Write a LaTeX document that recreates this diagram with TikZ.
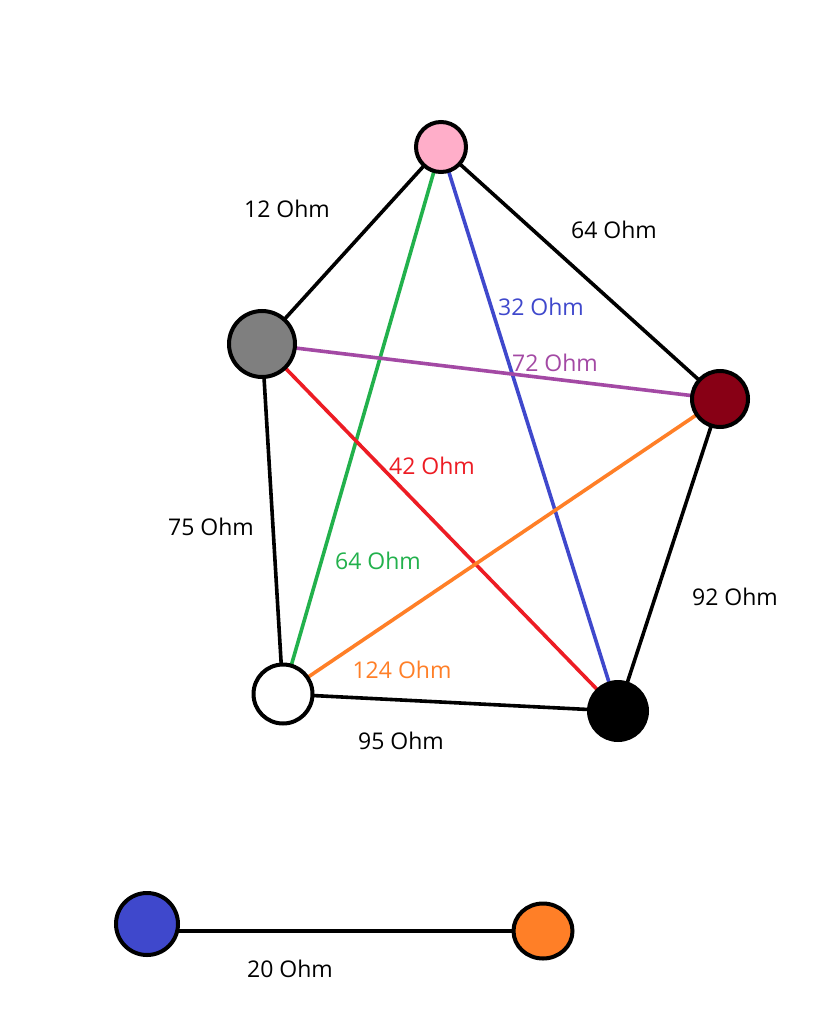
\documentclass[tikz,border=0pt]{standalone}
\usepackage{fontspec}
\setmainfont{Open Sans}
\usetikzlibrary{shapes.geometric}
\definecolor{cpink}{HTML}{FFAEC9}
\definecolor{cgray}{HTML}{7F7F7F}
\definecolor{cdred}{HTML}{880015}
\definecolor{cblue}{HTML}{3F48CC}
\definecolor{corange}{HTML}{FF7F27}
\definecolor{cgreen}{HTML}{22B14C}
\definecolor{cpurple}{HTML}{A349A4}
\definecolor{cred}{HTML}{ED1C24}
\tikzset{
  vert/.style={circle, draw=black, line width=4pt, inner sep=0pt},
  edge/.style={line width=3.6pt},
  lbl/.style={inner sep=0pt, font=\fontsize{23}{26}\selectfont, text height=16pt, text depth=0pt, anchor=center}
}
\begin{document}
\begin{tikzpicture}[x=1pt,y=-1pt]
\useasboundingbox[fill=white] (0,0) rectangle (821,1024);
% node coordinates
\coordinate (pP) at (441,147);
\coordinate (pG) at (262,344);
\coordinate (pD) at (720,399);
\coordinate (pW) at (283,694);
\coordinate (pB) at (618,711);
\coordinate (pU) at (147,924);
\coordinate (pO) at (543,931);
% edges
\draw[edge, black] (pP) -- (pG);
\draw[edge, black] (pP) -- (pD);
\draw[edge, black] (pG) -- (pW);
\draw[edge, black] (pW) -- (pB);
\draw[edge, black] (pB) -- (pD);
\draw[edge, cgreen] (pP) -- (pW);
\draw[edge, cblue] (pP) -- (pB);
\draw[edge, cpurple] (pG) -- (pD);
\draw[edge, cred] (pG) -- (pB);
\draw[edge, corange] (pW) -- (pD);
\draw[edge, black] (pU |- pO) -- (pO);
% nodes
\node[vert, fill=cpink, minimum size=50pt] (P) at (pP) {};
\node[vert, fill=cgray, minimum size=66pt] (G) at (pG) {};
\node[vert, fill=cdred, minimum size=56pt] (D) at (pD) {};
\node[vert, fill=white, minimum size=59pt] (W) at (pW) {};
\node[vert, fill=black, minimum size=58pt] (B) at (pB) {};
\node[vert, fill=cblue, minimum size=62pt] (U) at (pU) {};
\node[ellipse, draw=black, line width=4pt, inner sep=0pt, fill=corange, minimum width=59pt, minimum height=55pt] (O) at (pO) {};
% labels
\node[lbl] (l1) at (287,210) {12 Ohm};
\node[lbl] (l2) at (614,231) {64 Ohm};
\node[lbl, text=cblue] (l3) at (541,307) {32 Ohm};
\node[lbl, text=cpurple] (l4) at (555,363) {72 Ohm};
\node[lbl, text=cred] (l5) at (432,466) {42 Ohm};
\node[lbl] (l6) at (211,527) {75 Ohm};
\node[lbl, text=cgreen] (l7) at (378,561) {64 Ohm};
\node[lbl] (l8) at (735,597) {92 Ohm};
\node[lbl, text=corange] (l9) at (402,670) {124 Ohm};
\node[lbl] (l10) at (401,741) {95 Ohm};
\node[lbl] (l11) at (290,969) {20 Ohm};
\end{tikzpicture}
\end{document}
